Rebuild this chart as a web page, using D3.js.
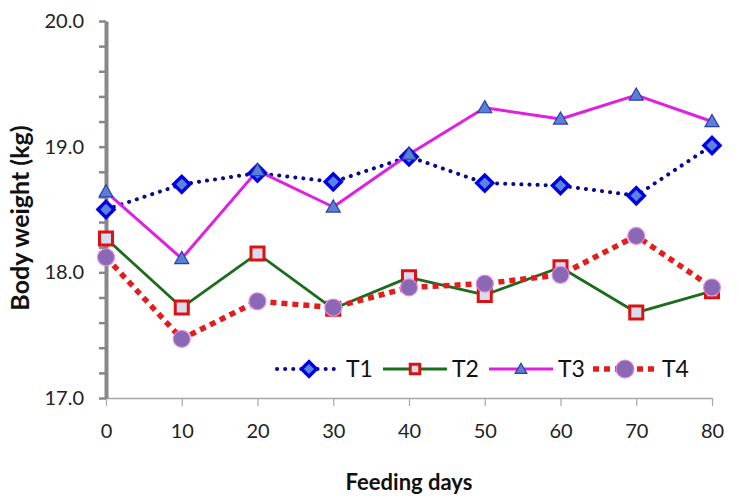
<!DOCTYPE html>
<html><head><meta charset="utf-8">
<script src="https://cdn.jsdelivr.net/npm/d3@7"></script>
<style>body{margin:0;background:#fff}svg{display:block}text{font-family:Lato,"Open Sans",sans-serif}</style>
</head><body><svg id="c" width="739" height="504"></svg>
<script>
const days = [0,10,20,30,40,50,60,70,80];
const T1 = [18.50,18.70,18.79,18.72,18.92,18.71,18.69,18.61,19.01];
const T2 = [18.27,17.72,18.15,17.71,17.96,17.82,18.04,17.68,17.85];
const T3 = [18.64,18.11,18.81,18.52,18.94,19.31,19.22,19.41,19.20];
const T4 = [18.12,17.47,17.77,17.72,17.88,17.91,17.98,18.29,17.88];
const seriesNames = ["T1","T2","T3","T4"];
const yTicks = [17.0,18.0,19.0,20.0];
const xLabel = "Feeding days";
const yLabel = "Body weight (kg)";

const svg = d3.select("#c");
const x = d3.scaleLinear().domain([0,80]).range([106,712]);
const y = d3.scaleLinear().domain([17,20]).range([398,21]);

// x axis
const xg = svg.append("g").attr("transform","translate(0,398)")
  .call(d3.axisBottom(x).tickValues(days).tickSize(8).tickPadding(18).tickSizeOuter(0));
xg.select(".domain").attr("stroke","#a6a6a6").attr("stroke-width",1.5);
xg.selectAll(".tick line").attr("stroke","#a6a6a6").attr("stroke-width",1.2);
xg.selectAll("text").attr("font-size",20).attr("fill","#222");

// y axis
const yg = svg.append("g").attr("transform","translate(106,0)")
  .call(d3.axisLeft(y).tickValues(d3.range(17,20.01,0.2)).tickSize(7).tickSizeOuter(0)
    .tickFormat(d => yTicks.some(t => Math.abs(t-d)<1e-6) ? d3.format(".1f")(d) : ""));
yg.select(".domain").attr("stroke","#888").attr("stroke-width",4);
yg.selectAll(".tick line").attr("stroke","#888").attr("stroke-width",2.5);
yg.selectAll("text").attr("font-size",20).attr("fill","#222").attr("dx",-12);

// titles
svg.append("text").attr("x",409).attr("y",490).attr("text-anchor","middle")
  .attr("font-size",22).attr("font-weight","bold").attr("fill","#111").text(xLabel);
svg.append("text").attr("transform","translate(29,218) rotate(-90)").attr("text-anchor","middle")
  .attr("font-size",25).attr("font-weight","bold").attr("fill","#111").text(yLabel);

const styles = [
  {data:T1, line:"#0a0a8c", lw:4, dash:"0.1 8", cap:"round", marker:"diamond"},
  {data:T2, line:"#1d6b1d", lw:2.8, dash:null, cap:"butt", marker:"square"},
  {data:T3, line:"#e020e0", lw:3, dash:null, cap:"butt", marker:"triangle"},
  {data:T4, line:"#e41c1c", lw:5.5, dash:"6 5", cap:"butt", marker:"circle"}
];
const lineGen = d3.line().x((d,i)=>x(days[i])).y(d=>y(d));

function drawMarker(g, type, cx, cy, legend){
  if(type==="diamond"){
    g.append("path").attr("d",d3.symbol(d3.symbolSquare, legend?110:130)())
      .attr("transform",`translate(${cx},${cy}) rotate(45)`)
      .attr("fill","#5b84dc").attr("stroke","#0000e6").attr("stroke-width",3.4);
  } else if(type==="square"){
    g.append("path").attr("d",d3.symbol(d3.symbolSquare, legend?90:170)())
      .attr("transform",`translate(${cx},${cy})`)
      .attr("fill","#d9dcef").attr("stroke","#dd1111").attr("stroke-width",3);
  } else if(type==="triangle"){
    g.append("path").attr("d",d3.symbol(d3.symbolTriangle, legend?60:85)())
      .attr("transform",`translate(${cx},${cy+1})`)
      .attr("fill","#5a7fd6").attr("stroke","#2b3fa8").attr("stroke-width",1.2);
  } else {
    g.append("circle").attr("cx",cx).attr("cy",cy).attr("r",legend?9:8.5)
      .attr("fill","#8b68b3").attr("stroke","#e58be8").attr("stroke-width",1.2);
  }
}

styles.forEach(s=>{
  svg.append("path").datum(s.data).attr("d",lineGen).attr("fill","none")
    .attr("stroke",s.line).attr("stroke-width",s.lw).attr("stroke-dasharray",s.dash)
    .attr("stroke-linecap",s.cap).attr("stroke-linejoin","round");
});
styles.forEach(s=>{
  const g = svg.append("g");
  s.data.forEach((v,i)=>drawMarker(g,s.marker,x(days[i]),y(v),false));
});

// legend
const legX = [277,383,489,593];
const lg = svg.append("g");
styles.forEach((s,i)=>{
  const x0 = legX[i], yy = 369;
  lg.append("line").attr("x1",x0).attr("x2",x0+64).attr("y1",yy).attr("y2",yy)
    .attr("stroke",s.line).attr("stroke-width",s.lw).attr("stroke-dasharray",s.dash)
    .attr("stroke-linecap",s.cap);
  drawMarker(lg,s.marker,x0+32,yy,true);
  lg.append("text").attr("x",x0+69).attr("y",yy).attr("dy","0.35em")
    .attr("font-size",23).attr("fill","#111").text(seriesNames[i]);
});
</script></body></html>
